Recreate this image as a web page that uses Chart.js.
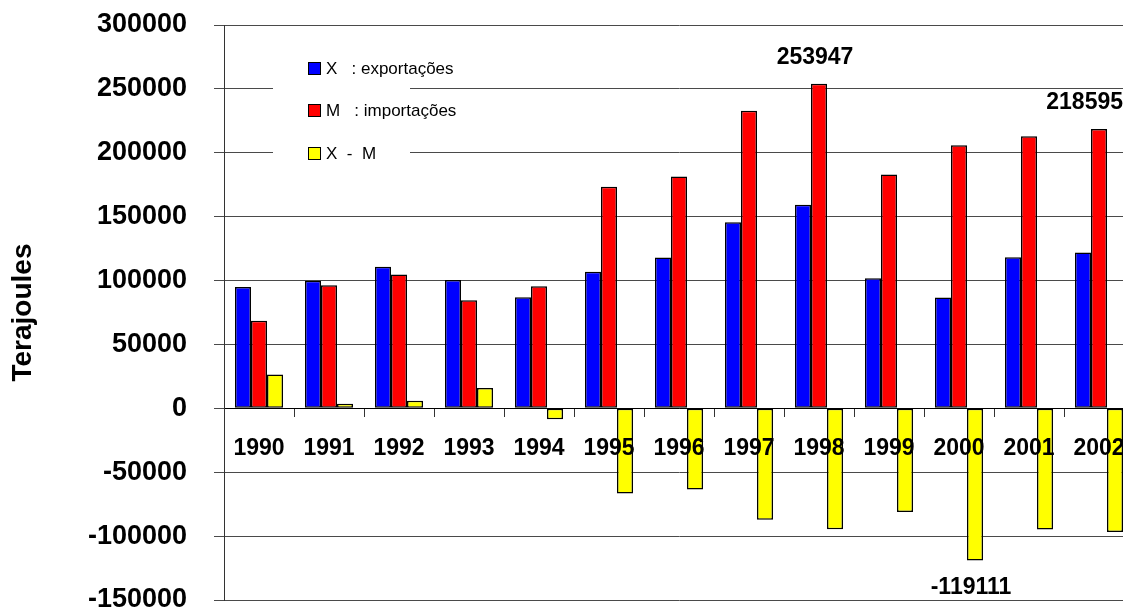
<!DOCTYPE html>
<html>
<head>
<meta charset="utf-8">
<title>Saldo energético</title>
<script src="https://cdn.jsdelivr.net/npm/chart.js@4.4.1/dist/chart.umd.min.js"></script>
<style>
  html, body { margin: 0; padding: 0; background: #fff; overflow: hidden; }
  #wrap { width: 1136px; height: 620px; }
</style>
</head>
<body>
<div id="wrap"><canvas id="saldo-chart"></canvas></div>
<script>
var anos = ['1990', '1991', '1992', '1993', '1994', '1995', '1996', '1997', '1998', '1999', '2000', '2001', '2002'];
var exportacoes = [95000, 99800, 110800, 100500, 87000, 106800, 118000, 145600, 159400, 101800, 86689, 118200, 121900];
var importacoes = [68500, 96300, 104800, 84600, 95500, 173400, 181500, 232800, 253947, 183000, 205800, 213000, 218595];
var saldo = [26500, 3500, 6000, 15900, -8500, -66600, -63500, -87200, -94547, -81200, -119111, -94800, -96695];

// eixo dos valores
var yMin = -150000;
var yMax = 300000;
var yStep = 50000;

// barras com o valor escrito: [série, ano]
var rotulos = [[1, '1998'], [1, '2002'], [2, '2000']];

var fonte = '"Liberation Sans", Arial, Helvetica, sans-serif';
Chart.defaults.font.family = fonte;
Chart.defaults.color = '#000';

// legenda dentro da área do gráfico, com fundo branco
var legendaCaixa = {
    id: 'legendaCaixa',
    afterDraw: function (chart) {
        var ctx = chart.ctx;
        var a = chart.chartArea;
        var x0 = a.left + 49, y0 = a.top + 17;
        ctx.save();
        ctx.fillStyle = '#fff';
        ctx.fillRect(x0, y0, 137, 130);
        ctx.font = '17px ' + fonte;
        ctx.textBaseline = 'middle';
        chart.data.datasets.forEach(function (ds, i) {
            var cy = Math.round(y0 + 26 + i * 42.3);
            ctx.fillStyle = ds.backgroundColor;
            ctx.fillRect(x0 + 35, cy - 6, 13, 13);
            ctx.strokeStyle = '#000';
            ctx.lineWidth = 1;
            ctx.strokeRect(x0 + 35.5, cy - 5.5, 12, 12);
            ctx.fillStyle = '#000';
            ctx.fillText(ds.label, x0 + 53, cy + 1);
        });
        ctx.restore();
    }
};

// valores escritos por cima / por baixo de algumas barras
var valoresBarras = {
    id: 'valoresBarras',
    afterDatasetsDraw: function (chart) {
        var ctx = chart.ctx;
        var limite = document.documentElement.clientWidth;
        ctx.save();
        ctx.font = 'bold 23px ' + fonte;
        ctx.fillStyle = '#000';
        ctx.textAlign = 'center';
        ctx.textBaseline = 'middle';
        rotulos.forEach(function (r) {
            var i = anos.indexOf(r[1]);
            var v = chart.data.datasets[r[0]].data[i];
            var bar = chart.getDatasetMeta(r[0]).data[i];
            var txt = String(v);
            var w = ctx.measureText(txt).width;
            var x = Math.min(bar.x - 4, limite - w / 2);
            var y = v >= 0 ? bar.y - 26 : bar.y + 27;
            ctx.fillText(txt, x, y);
        });
        ctx.restore();
    }
};

var ctx = document.getElementById('saldo-chart').getContext('2d');
var chart = new Chart(ctx, {
    type: 'bar',
    data: {
        labels: anos,
        datasets: [{
            label: 'X   : exportações',
            data: exportacoes,
            backgroundColor: '#0000ff'
        }, {
            label: 'M   : importações',
            data: importacoes,
            backgroundColor: '#ff0000'
        }, {
            label: 'X  -  M',
            data: saldo,
            backgroundColor: '#ffff00'
        }]
    },
    options: {
        responsive: true,
        maintainAspectRatio: false,
        animation: false,
        layout: {
            padding: { top: 25, bottom: 20, left: 0, right: 2 }
        },
        datasets: {
            bar: {
                borderColor: '#000',
                borderWidth: 1.5,
                borderSkipped: false,
                categoryPercentage: 0.686,
                barPercentage: 1
            }
        },
        plugins: {
            legend: { display: false },
            tooltip: { enabled: false }
        },
        scales: {
            x: {
                position: { y: 0 },
                grid: { drawOnChartArea: false, offset: true, tickLength: 8, color: '#333' },
                border: { color: '#000', width: 1 },
                ticks: {
                    z: 1, // anos escritos por cima das barras
                    padding: 19,
                    autoSkip: false,
                    maxRotation: 0,
                    font: { size: 23, weight: 'bold' }
                },
                afterFit: function (s) {
                    s.paddingLeft = 0;
                    s.paddingRight = 0;
                }
            },
            y: {
                min: yMin,
                max: yMax,
                grid: { color: '#4a4a4a', lineWidth: 1, tickLength: 10 },
                border: { color: '#333', width: 1 },
                ticks: {
                    stepSize: yStep,
                    padding: 27,
                    font: { size: 27, weight: 'bold' },
                    callback: function (v) { return String(v); }
                },
                title: {
                    display: true,
                    text: 'Terajoules',
                    font: { size: 28, weight: 'bold' },
                    padding: { top: 6, bottom: 0 }
                },
                afterFit: function (s) {
                    s.width = 224;
                    s.paddingTop = 0;
                    s.paddingBottom = 0;
                }
            }
        }
    },
    plugins: [legendaCaixa, valoresBarras]
});
</script>
</body>
</html>
